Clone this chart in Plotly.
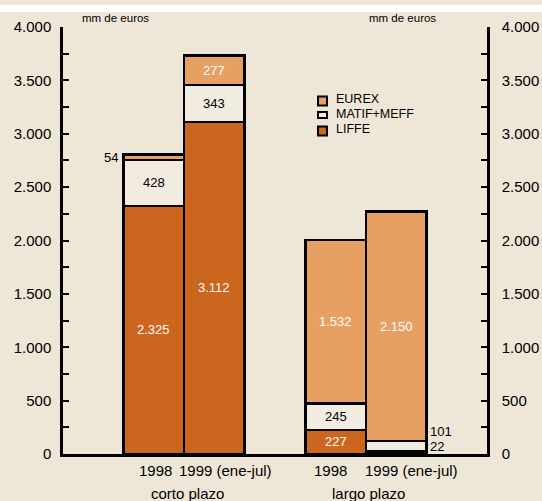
import plotly.graph_objects as go

# ---- data ----------------------------------------------------------------
periods = ["1998", "1999 (ene-jul)", "1998", "1999 (ene-jul)"]
groups = ["corto plazo", "largo plazo"]
series_names = ["LIFFE", "MATIF+MEFF", "EUREX"]
liffe = [2325, 3112, 227, 22]
matif_meff = [428, 343, 245, 101]
eurex = [54, 277, 1532, 2150]
y_tickvals = [0, 500, 1000, 1500, 2000, 2500, 3000, 3500, 4000]
y_ticktext = ["0", "500", "1.000", "1.500", "2.000", "2.500", "3.000", "3.500", "4.000"]
unit_label = "mm de euros"

# ---- styling / layout ----------------------------------------------------
BG = "#EEE6D7"
COLORS = {"LIFFE": "#CB661F", "MATIF+MEFF": "#F2ECE0", "EUREX": "#E8A062"}
FONT = "Liberation Sans, Arial, sans-serif"
bar_pos = [1.5, 2.5, 4.5, 5.5]          # slot centres on the x axis
period_label_x = [1.52, 2.69, 4.42, 5.76]
group_label_x = [2.05, 5.05]

W, H = 542, 501
ML, MR, MT, MB = 63, 55, 27, 47
plot_w, plot_h = W - ML - MR, H - MT - MB


def fmt(v):
    return f"{v:,}".replace(",", ".")


fig = go.Figure()
series = {"LIFFE": liffe, "MATIF+MEFF": matif_meff, "EUREX": eurex}
for name in series_names:
    fig.add_trace(go.Bar(
        x=bar_pos, y=series[name], name=name, width=1.0,
        marker=dict(color=COLORS[name], line=dict(color="black", width=2.5)),
        showlegend=False, hoverinfo="skip",
    ))

annotations = []
# value labels inside / beside each stacked segment
base = [0, 0, 0, 0]
for name in series_names:
    vals = series[name]
    for i, v in enumerate(vals):
        mid = base[i] + v / 2
        color = "black" if name == "MATIF+MEFF" else "white"
        if v < 60 and i == 0:
            # tiny segment: label to the left of the bar
            annotations.append(dict(x=bar_pos[i] - 0.56, y=mid, text=fmt(v), xanchor="right",
                                    yanchor="middle", showarrow=False,
                                    font=dict(size=13, color="black", family=FONT)))
        elif i == 3 and name in ("LIFFE", "MATIF+MEFF"):
            pass
        else:
            annotations.append(dict(x=bar_pos[i], y=mid, text=fmt(v), xanchor="center",
                                    yanchor="middle", showarrow=False,
                                    font=dict(size=13, color=color, family=FONT)))
        base[i] += v

# small segments of the last bar, labelled to its right
annotations.append(dict(x=bar_pos[3] + 0.52, y=liffe[3] + matif_meff[3] + 85, text=fmt(matif_meff[3]),
                        xanchor="left", yanchor="middle", showarrow=False,
                        font=dict(size=13, color="black", family=FONT)))
annotations.append(dict(x=bar_pos[3] + 0.52, y=liffe[3] + 45, text=fmt(liffe[3]),
                        xanchor="left", yanchor="middle", showarrow=False,
                        font=dict(size=13, color="black", family=FONT)))

# category labels under the axis
for xp, t in zip(period_label_x, periods):
    annotations.append(dict(x=xp, y=-16 / plot_h, xref="x", yref="paper", text=t,
                            xanchor="center", yanchor="middle", showarrow=False,
                            font=dict(size=15, color="black", family=FONT)))
for xp, t in zip(group_label_x, groups):
    annotations.append(dict(x=xp, y=-39 / plot_h, xref="x", yref="paper", text=t,
                            xanchor="center", yanchor="middle", showarrow=False,
                            font=dict(size=15, color="black", family=FONT)))

# unit labels
annotations.append(dict(x=(80 - ML) / plot_w, y=1 + (MT - 18) / plot_h, xref="paper", yref="paper",
                        text=unit_label, xanchor="left", yanchor="middle", showarrow=False,
                        font=dict(size=11.5, color="black", family=FONT)))
annotations.append(dict(x=(438 - ML) / plot_w, y=1 + (MT - 18) / plot_h, xref="paper", yref="paper",
                        text=unit_label, xanchor="right", yanchor="middle", showarrow=False,
                        font=dict(size=11.5, color="black", family=FONT)))

# hand-placed legend: EUREX, MATIF+MEFF, LIFFE from top to bottom
shapes = []
legend_items = [("EUREX", 101, 99.5, 9), ("MATIF+MEFF", 115, 113.5, 6), ("LIFFE", 131, 128.5, 9)]
for name, my, ty, mh in legend_items:
    shapes.append(dict(type="rect", xref="paper", yref="paper",
                       x0=(318 - ML) / plot_w, x1=(327 - ML) / plot_w,
                       y0=(H - MB - (my + mh / 2)) / plot_h, y1=(H - MB - (my - mh / 2)) / plot_h,
                       fillcolor=COLORS[name], line=dict(color="black", width=2)))
    annotations.append(dict(x=(334 - ML) / plot_w, y=(H - MB - ty) / plot_h, xref="paper", yref="paper",
                            text=name, xanchor="left", yanchor="middle", showarrow=False,
                            font=dict(size=12.5, color="black", family=FONT)))

# light band across the top of the page
shapes.append(dict(type="rect", xref="paper", yref="paper", x0=-0.2, x1=1.2,
                   y0=1 + (MT - 12) / plot_h, y1=1 + (MT - 5) / plot_h,
                   fillcolor="white", line=dict(width=0), layer="below"))

yaxis_common = dict(
    range=[0, 4000], tickvals=y_tickvals, ticktext=y_ticktext,
    ticks="inside", ticklen=6, tickwidth=2, tickcolor="black",
    minor=dict(dtick=250, ticks="inside", ticklen=6, tickwidth=2, tickcolor="black"),
    showline=True, linecolor="black", linewidth=2.5,
    showgrid=False, zeroline=False, fixedrange=True, automargin=False,
    tickfont=dict(size=15, color="black", family=FONT),
)

fig.update_layout(
    width=W, height=H, margin=dict(l=ML, r=MR, t=MT, b=MB, autoexpand=False),
    paper_bgcolor=BG, plot_bgcolor=BG, barmode="stack", showlegend=False,
    xaxis=dict(range=[0, 7], showline=True, linecolor="black", linewidth=2.5, automargin=False,
               showticklabels=False, ticks="", showgrid=False, zeroline=False),
    yaxis=dict(**yaxis_common, side="left", ticklabelstandoff=6),
    yaxis2=dict(**yaxis_common, side="right", overlaying="y", anchor="x", ticklabelstandoff=9),
    annotations=annotations, shapes=shapes,
)
# keep the right-hand axis bound to the plot
fig.add_trace(go.Scatter(x=[None], y=[None], yaxis="y2", showlegend=False, hoverinfo="skip"))

fig.write_html("out.html")
